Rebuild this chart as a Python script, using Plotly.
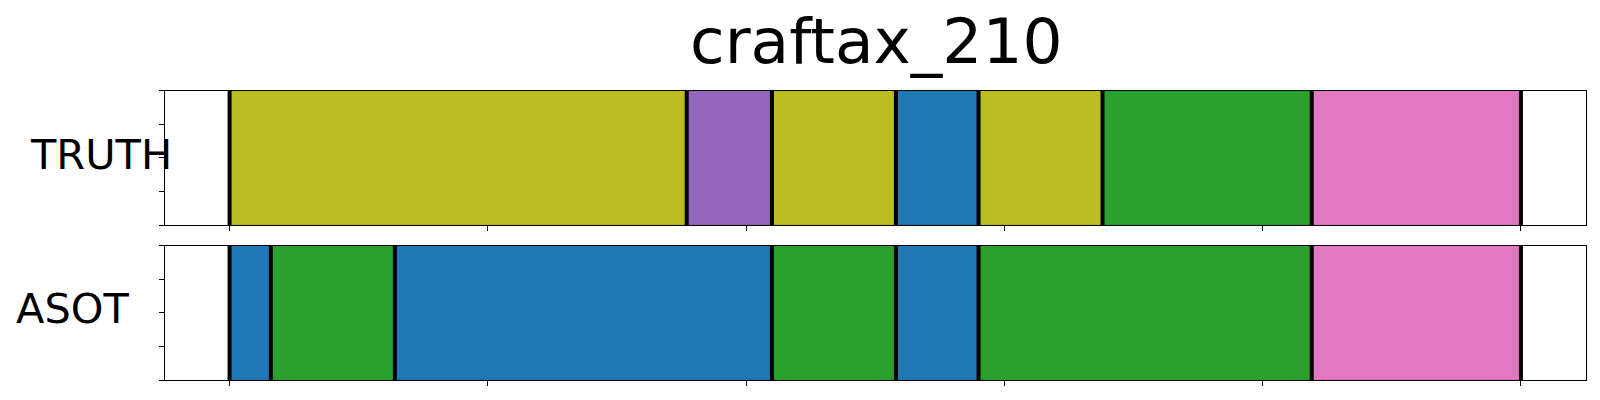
import plotly.graph_objects as go

# ---- data ----
title_text = "craftax_210"
row_names = ["TRUTH", "ASOT"]
truth_bounds = [0, 88.5, 105, 129, 145, 169, 209.5, 250]
truth_classes = [8, 4, 8, 0, 8, 2, 6]
asot_bounds = [0, 8, 32, 105, 129, 145, 209.5, 250]
asot_classes = [0, 2, 0, 2, 0, 2, 6]
x_ticks = [0, 50, 100, 150, 200, 250]
y_ticks = [0, 0.25, 0.5, 0.75, 1.0]

tab10 = ["#1f77b4", "#ff7f0e", "#2ca02c", "#d62728", "#9467bd",
         "#8c564b", "#e377c2", "#7f7f7f", "#bcbd22", "#17becf"]

W, H = 1600, 400
OFF = 8  # page body margin offset
fig = go.Figure()

rows = [(truth_bounds, truth_classes, "x", "y"), (asot_bounds, asot_classes, "x2", "y2")]
for bounds, classes, xa, ya in rows:
    for i, c in enumerate(classes):
        fig.add_trace(go.Bar(
            orientation="h", y=[0.5], base=[bounds[i]], x=[bounds[i + 1] - bounds[i]],
            width=1.0, marker=dict(color=tab10[c], line=dict(width=0.6, color="rgba(0,0,0,0.35)")),
            xaxis=xa, yaxis=ya, showlegend=False, hoverinfo="skip"))
    lx, ly = [], []
    for b in bounds:
        lx += [b, b, None]
        ly += [0, 1, None]
    fig.add_trace(go.Scatter(x=lx, y=ly, mode="lines", line=dict(color="black", width=4),
                             xaxis=xa, yaxis=ya, showlegend=False, hoverinfo="skip",
                             cliponaxis=True))

def px(v):
    return (v - OFF) / W

def py(v):
    return 1 - (v - OFF) / H

x0, x1 = px(165.0), px(1585.5)
axis_common = dict(showline=True, linecolor="black", linewidth=1.2, mirror=True,
                   ticks="outside", ticklen=5, tickwidth=1.1, tickcolor="black",
                   showgrid=False, zeroline=False, showticklabels=False)
fig.update_layout(
    width=W, height=H, plot_bgcolor="white", paper_bgcolor="white",
    margin=dict(l=0, r=0, t=0, b=0), barmode="overlay", bargap=0,
    xaxis=dict(domain=[x0, x1], range=[-12.5, 262.5], anchor="y", tickvals=x_ticks, **axis_common),
    yaxis=dict(domain=[py(225), py(90.5)], range=[0, 1], anchor="x", tickvals=y_ticks, **axis_common),
    xaxis2=dict(domain=[x0, x1], range=[-12.5, 262.5], anchor="y2", tickvals=x_ticks, **axis_common),
    yaxis2=dict(domain=[py(380.3), py(245.5)], range=[0, 1], anchor="x2", tickvals=y_ticks, **axis_common),
    font=dict(family="DejaVu Sans", color="black"),
)

fig.add_annotation(text=title_text, xref="paper", yref="paper", x=px(876), y=py(42),
                   xanchor="center", yanchor="middle", showarrow=False, borderpad=0,
                   font=dict(family="DejaVu Sans", size=63, color="black"))
fig.add_annotation(text=row_names[0], xref="paper", yref="paper", x=px(27.5), y=py(154),
                   xanchor="left", yanchor="middle", showarrow=False,
                   font=dict(family="DejaVu Sans", size=41.5, color="black"))
fig.add_annotation(text=row_names[1], xref="paper", yref="paper", x=px(13.5), y=py(308),
                   xanchor="left", yanchor="middle", showarrow=False,
                   font=dict(family="DejaVu Sans", size=41.5, color="black"))

fig.write_html("out.html")
